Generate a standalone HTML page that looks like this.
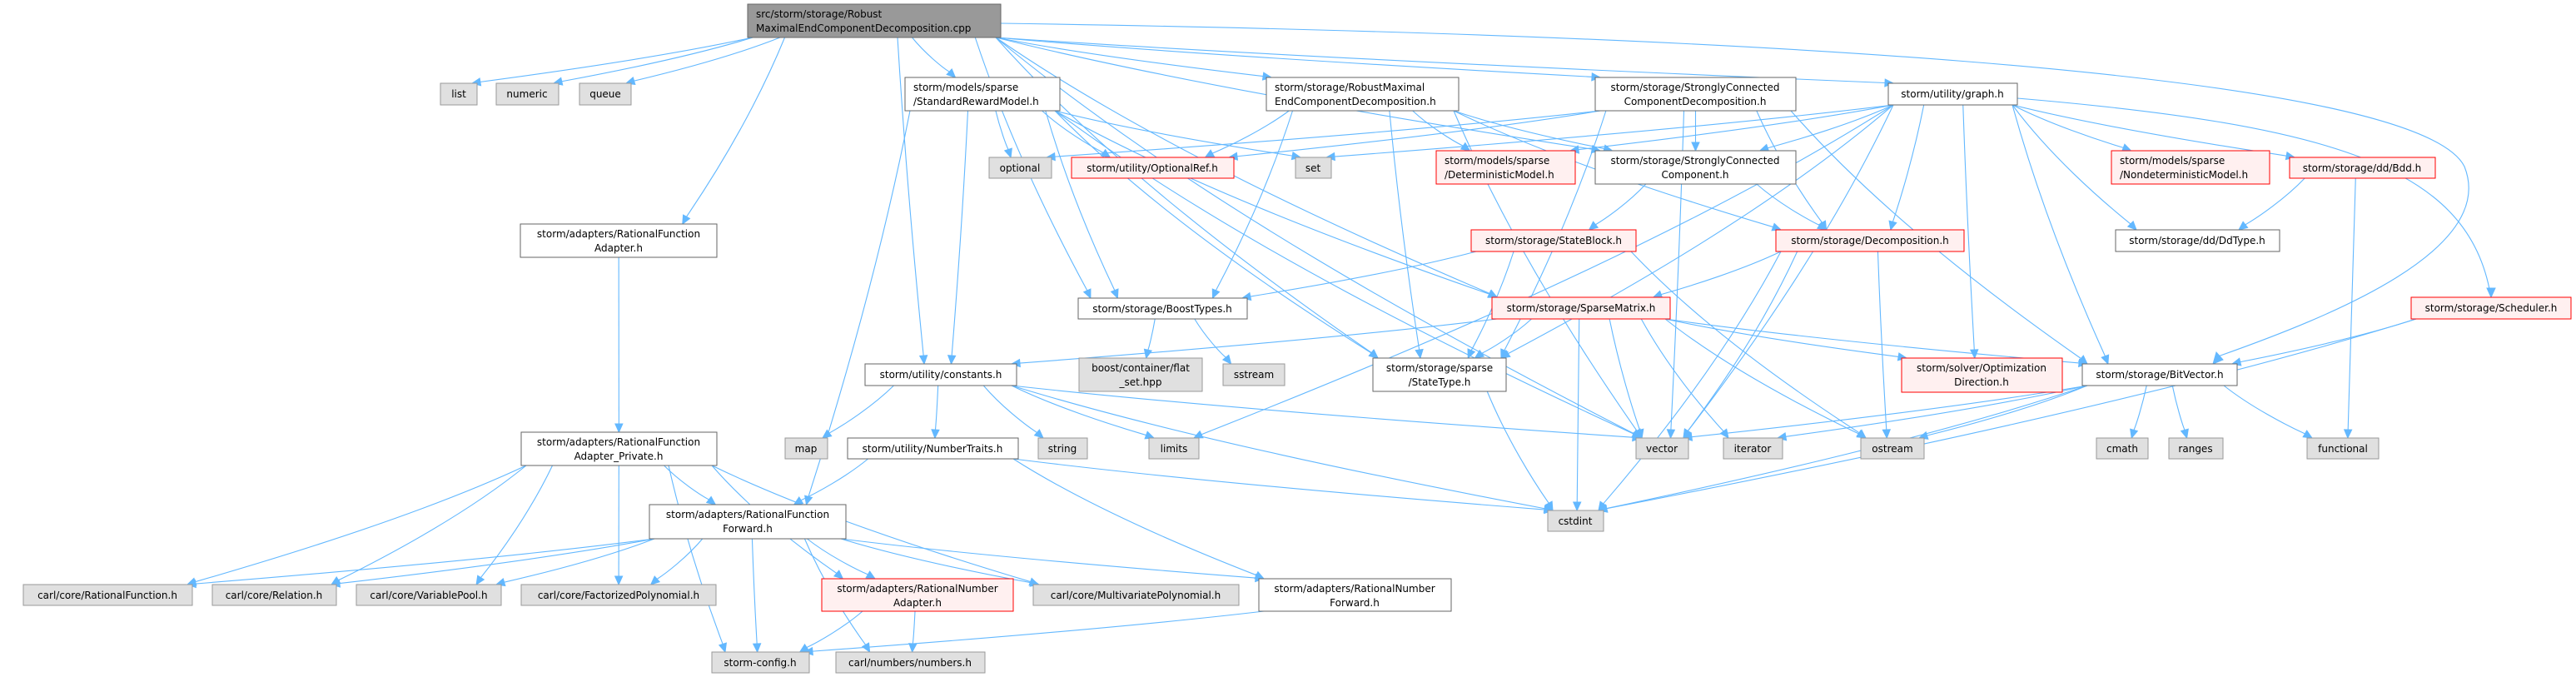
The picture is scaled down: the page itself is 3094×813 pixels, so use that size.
<!DOCTYPE html>
<html><head><meta charset="utf-8"><style>
html,body{margin:0;padding:0;background:#fff;}
svg{display:block;}
text{font-family:"DejaVu Sans","Liberation Sans",sans-serif;font-size:12px;fill:#000;}
</style></head><body>
<svg id="g" width="3094" height="813" viewBox="0 0 3094 813" xmlns="http://www.w3.org/2000/svg">
<g id="edges" fill="none" stroke="#63b8ff" stroke-width="1.1">
<path d="M1202,28 C2000,40 2900,80 2960,200 C3000,300 2800,380 2664,428"/>
<path d="M2423,118 C2800,150 2960,200 2990,347"/>
</g>
<g id="arrows" fill="#63b8ff" stroke="#63b8ff">
<polygon points="2658,437 2662,423 2670,432"/>
<polygon points="2992,357 2987,346 2997,346"/>
</g>
<g id="nodes">
<rect x="898" y="5" width="304" height="40" fill="#999" stroke="#666"/>
<text x="908" y="21">src/storm/storage/Robust</text><text x="908" y="38">MaximalEndComponentDecomposition.cpp</text>
<rect x="529" y="100" width="44" height="26" fill="#e0e0e0" stroke="#999"/><text x="551" y="117" text-anchor="middle">list</text>
<rect x="596" y="100" width="75" height="26" fill="#e0e0e0" stroke="#999"/><text x="633" y="117" text-anchor="middle">numeric</text>
<rect x="696" y="100" width="62" height="26" fill="#e0e0e0" stroke="#999"/><text x="727" y="117" text-anchor="middle">queue</text>
<rect x="625" y="269" width="236" height="40" fill="#fff" stroke="#666"/><text x="743" y="285" text-anchor="middle">storm/adapters/RationalFunction</text><text x="743" y="302" text-anchor="middle">Adapter.h</text>
<rect x="1087" y="93" width="186" height="40" fill="#fff" stroke="#666"/><text x="1097" y="109">storm/models/sparse</text><text x="1097" y="126">/StandardRewardModel.h</text>
<rect x="1188" y="189" width="75" height="25" fill="#e0e0e0" stroke="#999"/><text x="1225" y="206" text-anchor="middle">optional</text>
<rect x="1287" y="189" width="195" height="25" fill="#fff0f0" stroke="#f00"/><text x="1384" y="206" text-anchor="middle">storm/utility/OptionalRef.h</text>
<rect x="1556" y="189" width="43" height="25" fill="#e0e0e0" stroke="#999"/><text x="1577" y="206" text-anchor="middle">set</text>
<rect x="1521" y="93" width="231" height="40" fill="#fff" stroke="#666"/><text x="1531" y="109">storm/storage/RobustMaximal</text><text x="1531" y="126">EndComponentDecomposition.h</text>
<rect x="1725" y="181" width="167" height="40" fill="#fff0f0" stroke="#f00"/><text x="1735" y="197">storm/models/sparse</text><text x="1735" y="214">/DeterministicModel.h</text>
<rect x="1916" y="93" width="241" height="40" fill="#fff" stroke="#666"/><text x="2036" y="109" text-anchor="middle">storm/storage/StronglyConnected</text><text x="2036" y="126" text-anchor="middle">ComponentDecomposition.h</text>
<rect x="1916" y="181" width="241" height="40" fill="#fff" stroke="#666"/><text x="2036" y="197" text-anchor="middle">storm/storage/StronglyConnected</text><text x="2036" y="214" text-anchor="middle">Component.h</text>
<rect x="2268" y="100" width="155" height="26" fill="#fff" stroke="#666"/><text x="2345" y="117" text-anchor="middle">storm/utility/graph.h</text>
<rect x="2536" y="181" width="190" height="40" fill="#fff0f0" stroke="#f00"/><text x="2546" y="197">storm/models/sparse</text><text x="2546" y="214">/NondeterministicModel.h</text>
<rect x="2750" y="189" width="175" height="25" fill="#fff0f0" stroke="#f00"/><text x="2837" y="206" text-anchor="middle">storm/storage/dd/Bdd.h</text>
<rect x="2541" y="276" width="197" height="26" fill="#fff" stroke="#666"/><text x="2639" y="293" text-anchor="middle">storm/storage/dd/DdType.h</text>
<rect x="1767" y="276" width="198" height="26" fill="#fff0f0" stroke="#f00"/><text x="1866" y="293" text-anchor="middle">storm/storage/StateBlock.h</text>
<rect x="2133" y="276" width="226" height="26" fill="#fff0f0" stroke="#f00"/><text x="2246" y="293" text-anchor="middle">storm/storage/Decomposition.h</text>
<rect x="2896" y="357" width="192" height="26" fill="#fff0f0" stroke="#f00"/><text x="2992" y="374" text-anchor="middle">storm/storage/Scheduler.h</text>
<rect x="1295" y="358" width="203" height="25" fill="#fff" stroke="#666"/><text x="1396" y="375" text-anchor="middle">storm/storage/BoostTypes.h</text>
<rect x="1792" y="357" width="214" height="26" fill="#fff0f0" stroke="#f00"/><text x="1899" y="374" text-anchor="middle">storm/storage/SparseMatrix.h</text>
<rect x="1039" y="437" width="182" height="26" fill="#fff" stroke="#666"/><text x="1130" y="454" text-anchor="middle">storm/utility/constants.h</text>
<rect x="1296" y="430" width="148" height="40" fill="#e0e0e0" stroke="#999"/><text x="1370" y="446" text-anchor="middle">boost/container/flat</text><text x="1370" y="463" text-anchor="middle">_set.hpp</text>
<rect x="1469" y="437" width="74" height="26" fill="#e0e0e0" stroke="#999"/><text x="1506" y="454" text-anchor="middle">sstream</text>
<rect x="1649" y="430" width="160" height="40" fill="#fff" stroke="#666"/><text x="1729" y="446" text-anchor="middle">storm/storage/sparse</text><text x="1729" y="463" text-anchor="middle">/StateType.h</text>
<rect x="2284" y="430" width="193" height="41" fill="#fff0f0" stroke="#f00"/><text x="2380" y="446" text-anchor="middle">storm/solver/Optimization</text><text x="2380" y="463" text-anchor="middle">Direction.h</text>
<rect x="2501" y="437" width="186" height="26" fill="#fff" stroke="#666"/><text x="2594" y="454" text-anchor="middle">storm/storage/BitVector.h</text>
<rect x="943" y="526" width="51" height="25" fill="#e0e0e0" stroke="#999"/><text x="968" y="543" text-anchor="middle">map</text>
<rect x="1018" y="526" width="205" height="25" fill="#fff" stroke="#666"/><text x="1120" y="543" text-anchor="middle">storm/utility/NumberTraits.h</text>
<rect x="1247" y="526" width="59" height="25" fill="#e0e0e0" stroke="#999"/><text x="1276" y="543" text-anchor="middle">string</text>
<rect x="1380" y="526" width="60" height="25" fill="#e0e0e0" stroke="#999"/><text x="1410" y="543" text-anchor="middle">limits</text>
<rect x="1965" y="526" width="63" height="25" fill="#e0e0e0" stroke="#999"/><text x="1996" y="543" text-anchor="middle">vector</text>
<rect x="2070" y="526" width="71" height="25" fill="#e0e0e0" stroke="#999"/><text x="2105" y="543" text-anchor="middle">iterator</text>
<rect x="2235" y="526" width="76" height="25" fill="#e0e0e0" stroke="#999"/><text x="2273" y="543" text-anchor="middle">ostream</text>
<rect x="2518" y="526" width="62" height="25" fill="#e0e0e0" stroke="#999"/><text x="2549" y="543" text-anchor="middle">cmath</text>
<rect x="2605" y="526" width="65" height="25" fill="#e0e0e0" stroke="#999"/><text x="2637" y="543" text-anchor="middle">ranges</text>
<rect x="2771" y="526" width="86" height="25" fill="#e0e0e0" stroke="#999"/><text x="2814" y="543" text-anchor="middle">functional</text>
<rect x="626" y="519" width="235" height="40" fill="#fff" stroke="#666"/><text x="743" y="535" text-anchor="middle">storm/adapters/RationalFunction</text><text x="743" y="552" text-anchor="middle">Adapter_Private.h</text>
<rect x="780" y="606" width="236" height="41" fill="#fff" stroke="#666"/><text x="898" y="622" text-anchor="middle">storm/adapters/RationalFunction</text><text x="898" y="639" text-anchor="middle">Forward.h</text>
<rect x="1859" y="613" width="67" height="25" fill="#e0e0e0" stroke="#999"/><text x="1892" y="630" text-anchor="middle">cstdint</text>
<rect x="28" y="702" width="203" height="25" fill="#e0e0e0" stroke="#999"/><text x="129" y="719" text-anchor="middle">carl/core/RationalFunction.h</text>
<rect x="255" y="702" width="149" height="25" fill="#e0e0e0" stroke="#999"/><text x="329" y="719" text-anchor="middle">carl/core/Relation.h</text>
<rect x="428" y="702" width="174" height="25" fill="#e0e0e0" stroke="#999"/><text x="515" y="719" text-anchor="middle">carl/core/VariablePool.h</text>
<rect x="626" y="702" width="234" height="25" fill="#e0e0e0" stroke="#999"/><text x="743" y="719" text-anchor="middle">carl/core/FactorizedPolynomial.h</text>
<rect x="987" y="695" width="230" height="39" fill="#fff0f0" stroke="#f00"/><text x="1102" y="711" text-anchor="middle">storm/adapters/RationalNumber</text><text x="1102" y="728" text-anchor="middle">Adapter.h</text>
<rect x="1241" y="702" width="247" height="25" fill="#e0e0e0" stroke="#999"/><text x="1364" y="719" text-anchor="middle">carl/core/MultivariatePolynomial.h</text>
<rect x="1512" y="695" width="231" height="39" fill="#fff" stroke="#666"/><text x="1627" y="711" text-anchor="middle">storm/adapters/RationalNumber</text><text x="1627" y="728" text-anchor="middle">Forward.h</text>
<rect x="855" y="783" width="117" height="25" fill="#e0e0e0" stroke="#999"/><text x="913" y="800" text-anchor="middle">storm-config.h</text>
<rect x="1004" y="783" width="179" height="25" fill="#e0e0e0" stroke="#999"/><text x="1093" y="800" text-anchor="middle">carl/numbers/numbers.h</text>
</g>
</svg>
<script>
var N={M:[898,1202,5,45],list:[529,573,100,126],numeric:[596,671,100,126],queue:[696,758,100,126],RFA:[625,861,269,309],SRM:[1087,1273,93,133],opt:[1188,1263,189,214],OR:[1287,1482,189,214],set:[1556,1599,189,214],RMEC:[1521,1752,93,133],Det:[1725,1892,181,221],SCCD:[1916,2157,93,133],SCC:[1916,2157,181,221],graph:[2268,2423,100,126],Nondet:[2536,2726,181,221],Bdd:[2750,2925,189,214],Dd:[2541,2738,276,302],SB:[1767,1965,276,302],Dec:[2133,2359,276,302],Sch:[2896,3088,357,383],BT:[1295,1498,358,383],SM:[1792,2006,357,383],con:[1039,1221,437,463],flat:[1296,1444,430,470],sst:[1469,1543,437,463],ST:[1649,1809,430,470],OD:[2284,2477,430,471],BV:[2501,2687,437,463],map:[943,994,526,551],NT:[1018,1223,526,551],str:[1247,1306,526,551],lim:[1380,1440,526,551],vec:[1965,2028,526,551],it:[2070,2141,526,551],os:[2235,2311,526,551],cm:[2518,2580,526,551],rg:[2605,2670,526,551],fn:[2771,2857,526,551],RFP:[626,861,519,559],RFF:[780,1016,606,647],cst:[1859,1926,613,638],RF:[28,231,702,727],Rel:[255,404,702,727],VP:[428,602,702,727],FP:[626,860,702,727],RNA:[987,1217,695,734],MP:[1241,1488,702,727],RNF:[1512,1743,695,734],cfg:[855,972,783,808],num:[1004,1183,783,808]};
var E={M:"list numeric queue RFA SRM RMEC SCCD graph SCC BT con ST SM vec",SRM:"opt OR set RFF con BT vec SM ST",RMEC:"OR Det SCC Dec BT ST vec",SCCD:"SCC Dec BV opt OR vec ST",graph:"set Det Nondet Bdd Dd SCC Dec OD BV lim ST vec",SCC:"SB Dec",SB:"BT ST os",Dec:"SM vec os cst",SM:"con ST OD BV vec it cst os",Bdd:"Dd fn",Sch:"BV cst",BV:"vec it os cm rg fn cst",BT:"flat sst",ST:"cst",con:"map NT str lim vec cst",NT:"RFF cst RNF",RFA:"RFP",RFP:"RFF RF Rel VP FP MP RNA cfg",RFF:"RF Rel VP FP MP RNA RNF cfg num",RNA:"cfg num",RNF:"cfg"};
var ns="http://www.w3.org/2000/svg",eg=document.getElementById("edges"),ag=document.getElementById("arrows");
function cl(v,a,b){return Math.max(a,Math.min(b,v));}
for(var s in E){E[s].split(" ").forEach(function(t){var a=N[s],b=N[t];var ac=(a[0]+a[1])/2,bc=(b[0]+b[1])/2;
var sx,sy,tx,ty;
if(b[2]>a[3]){sx=cl(ac+(bc-ac)*0.35,a[0]+6,a[1]-6);sy=a[3];tx=cl(bc+(ac-bc)*0.25,b[0]+6,b[1]-6);ty=b[2];}
else{sy=(a[2]+a[3])/2;ty=(b[2]+b[3])/2;if(bc<ac){sx=a[0];tx=b[1];}else{sx=a[1];tx=b[0];}}
var dx=tx-sx,dy=ty-sy,L=Math.sqrt(dx*dx+dy*dy),ux=dx/L,uy=dy/L;
var ex=tx-ux*10,ey=ty-uy*10;
var c1x=sx+dx*0.3,c1y=sy+dy*0.4,c2x=sx+dx*0.7,c2y=sy+dy*0.75;
var p=document.createElementNS(ns,"path");p.setAttribute("d","M"+sx+","+sy+" C"+c1x+","+c1y+" "+c2x+","+c2y+" "+ex+","+ey);eg.appendChild(p);
var px=-uy,py=ux;var q=document.createElementNS(ns,"polygon");
q.setAttribute("points",tx+","+ty+" "+(ex+px*4.5)+","+(ey+py*4.5)+" "+(ex-px*4.5)+","+(ey-py*4.5));ag.appendChild(q);});}
</script>
</body></html>
